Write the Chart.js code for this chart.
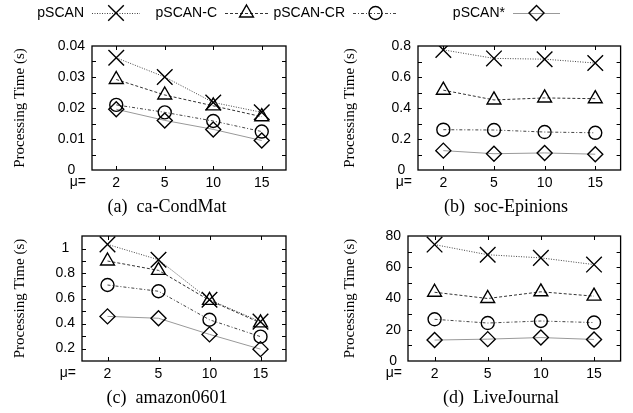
<!DOCTYPE html>
<html>
<head>
<meta charset="utf-8">
<script src="https://cdn.jsdelivr.net/npm/chart.js@4.4.1/dist/chart.umd.min.js"></script>
<style>
body { margin: 0; background: #fff; }
#wrap { position: relative; width: 633px; height: 413px; background: #fff; overflow: hidden; }
#wrap canvas { position: absolute; }
</style>
</head>
<body>
<div id="wrap">
  <canvas id="legend" width="633" height="26" style="left:0;top:0"></canvas>
  <canvas id="chartA" width="316" height="192" style="left:0;top:26px"></canvas>
  <canvas id="chartB" width="303" height="192" style="left:330px;top:26px"></canvas>
  <canvas id="chartC" width="316" height="193" style="left:0;top:216px"></canvas>
  <canvas id="chartD" width="303" height="193" style="left:330px;top:216px"></canvas>
</div>
<script>
// x categories (mu)
const muLabels = ['2', '5', '10', '15'];
const seriesNames = ['pSCAN', 'pSCAN-C', 'pSCAN-CR', 'pSCAN*'];

// (a) ca-CondMat
const condMatPscan   = [0.0362, 0.0300, 0.0218, 0.0186];
const condMatPscanC  = [0.0292, 0.0242, 0.0207, 0.0172];
const condMatPscanCR = [0.0210, 0.0186, 0.0158, 0.0124];
const condMatStar    = [0.0196, 0.0160, 0.0131, 0.0095];
const condMatTicks   = [0, 0.01, 0.02, 0.03, 0.04];

// (b) soc-Epinions
const epinionsPscan   = [0.775, 0.720, 0.715, 0.690];
const epinionsPscanC  = [0.515, 0.452, 0.465, 0.460];
const epinionsPscanCR = [0.260, 0.258, 0.245, 0.240];
const epinionsStar    = [0.125, 0.105, 0.110, 0.102];
const epinionsTicks   = [0, 0.2, 0.4, 0.6, 0.8];

// (c) amazon0601
const amazonPscan   = [1.033, 0.910, 0.590, 0.415];
const amazonPscanC  = [0.900, 0.825, 0.585, 0.405];
const amazonPscanCR = [0.708, 0.658, 0.430, 0.295];
const amazonStar    = [0.457, 0.442, 0.313, 0.195];
const amazonTicks   = [0.2, 0.4, 0.6, 0.8, 1];

// (d) LiveJournal
const ljPscan   = [74.5, 68.0, 66.0, 61.7];
const ljPscanC  = [44.0, 40.0, 44.3, 41.5];
const ljPscanCR = [26.7, 24.3, 25.6, 24.6];
const ljStar    = [13.4, 14.0, 15.0, 13.8];
const ljTicks   = [0, 20, 40, 60, 80];

const sansFont = 'Liberation Sans, Arial, Helvetica, sans-serif';
const serifFont = 'Liberation Serif, Times New Roman, serif';

const styles = [
  { pointStyle: 'crossRot', pointRadius: 11, borderColor: '#444', borderDash: [1, 1.5] },
  { pointStyle: 'triangle', pointRadius: 8, borderColor: '#333', borderDash: [3, 2] },
  { pointStyle: 'circle', pointRadius: 6.5, borderColor: '#444', borderDash: [3, 2, 1, 2] },
  { pointStyle: 'rectRot', pointRadius: 7.5, borderColor: '#999', borderDash: [] }
];

function makeDatasets(series) {
  return series.map((vals, i) => ({
    label: seriesNames[i],
    data: vals,
    borderColor: styles[i].borderColor,
    borderDash: styles[i].borderDash,
    borderWidth: 1,
    pointStyle: styles[i].pointStyle,
    pointRadius: styles[i].pointRadius,
    pointBorderColor: '#000',
    pointBackgroundColor: 'rgba(0,0,0,0)',
    pointBorderWidth: 1.4,
    fill: false,
    tension: 0
  }));
}

// box + inside tick marks + "μ=" label + caption
const framePlugin = {
  id: 'frame',
  beforeDatasetsDraw(chart, args, opts) {
    const { ctx, chartArea: a, scales: { x, y } } = chart;
    ctx.save();
    ctx.strokeStyle = '#000';
    ctx.lineWidth = 1;
    ctx.beginPath();
    const n = Math.round((opts.max - opts.min) / opts.minor);
    for (let k = 1; k < n; k++) {
      const py = Math.round(y.getPixelForValue(opts.min + k * opts.minor)) + 0.5;
      ctx.moveTo(a.left, py); ctx.lineTo(a.left + 4, py);
      ctx.moveTo(a.right, py); ctx.lineTo(a.right - 4, py);
    }
    muLabels.forEach((l, i) => {
      const px = Math.round(x.getPixelForValue(i)) + 0.5;
      ctx.moveTo(px, a.bottom); ctx.lineTo(px, a.bottom - 4);
      ctx.moveTo(px, a.top); ctx.lineTo(px, a.top + 4);
    });
    ctx.stroke();
    ctx.lineWidth = 1.3;
    ctx.strokeRect(a.left, a.top, a.right - a.left, a.bottom - a.top);
    ctx.fillStyle = '#000';
    ctx.font = '14px ' + sansFont;
    ctx.textAlign = 'right';
    ctx.textBaseline = 'top';
    ctx.fillText('\u03bc=', a.left - 6, a.bottom + 5);
    ctx.font = '18px ' + serifFont;
    ctx.textAlign = 'center';
    ctx.textBaseline = 'middle';
    ctx.fillText(opts.caption, opts.captionX, chart.height - 11);
    ctx.restore();
  }
};

function makeChart(id, caption, captionX, series, ticks, min, max, minor, yWidth, rightPad) {
  return new Chart(document.getElementById(id), {
    type: 'line',
    data: { labels: muLabels, datasets: makeDatasets(series) },
    options: {
      responsive: false,
      animation: false,
      layout: { padding: { left: 0, right: rightPad, top: 20, bottom: 0 } },
      plugins: {
        legend: { display: false },
        tooltip: { enabled: false },
        frame: { min: min, max: max, minor: minor, caption: caption, captionX: captionX }
      },
      scales: {
        x: {
          type: 'category',
          offset: true,
          grid: { display: false, drawTicks: false },
          border: { display: false },
          ticks: { color: '#000', font: { family: sansFont, size: 14 }, padding: 5, maxRotation: 0 },
          afterFit(scale) { scale.height = 48; }
        },
        y: {
          min: min,
          max: max,
          grid: { display: false, drawTicks: false },
          border: { display: false },
          afterBuildTicks(scale) { scale.ticks = ticks.map(v => ({ value: v })); },
          ticks: {
            color: '#000',
            font: { family: sansFont, size: 14 },
            padding: 7,
            crossAlign: 'center',
            callback: v => String(+Number(v).toFixed(4))
          },
          title: { display: true, text: 'Processing Time (s)', color: '#000', font: { family: serifFont, size: 15 }, padding: { top: 11, bottom: 0 } },
          afterFit(scale) { scale.width = yWidth; }
        }
      }
    },
    plugins: [framePlugin]
  });
}

makeChart('chartA', '(a)  ca-CondMat', 167,
  [condMatPscan, condMatPscanC, condMatPscanCR, condMatStar], condMatTicks, 0, 0.04, 0.005, 92, 30);
makeChart('chartB', '(b)  soc-Epinions', 176,
  [epinionsPscan, epinionsPscanC, epinionsPscanCR, epinionsStar], epinionsTicks, 0, 0.8, 0.1, 88, 10);
makeChart('chartC', '(c)  amazon0601', 167,
  [amazonPscan, amazonPscanC, amazonPscanCR, amazonStar], amazonTicks, 0.1, 1.1, 0.1, 82, 30);
makeChart('chartD', '(d)  LiveJournal', 171,
  [ljPscan, ljPscanC, ljPscanCR, ljStar], ljTicks, 0, 80, 10, 78, 10);

// legend row: text, then line sample with marker
const legendSlots = [
  { textRight: 84, x0: 92, x1: 140 },
  { textRight: 217, x0: 225, x1: 268 },
  { textRight: 345, x0: 353, x1: 398 },
  { textRight: 505, x0: 513, x1: 560 }
];

const legendPlugin = {
  id: 'keyRow',
  afterDraw(chart) {
    const ctx = chart.ctx;
    const cy = 13;
    ctx.save();
    ctx.font = '14px ' + sansFont;
    ctx.textAlign = 'right';
    ctx.textBaseline = 'middle';
    chart.data.datasets.forEach((ds, i) => {
      const s = legendSlots[i];
      ctx.fillStyle = '#000';
      ctx.fillText(ds.label, s.textRight, cy);
      ctx.strokeStyle = ds.borderColor;
      ctx.lineWidth = 1;
      ctx.setLineDash(ds.borderDash);
      ctx.beginPath();
      ctx.moveTo(s.x0, cy + 0.5);
      ctx.lineTo(s.x1, cy + 0.5);
      ctx.stroke();
      ctx.setLineDash([]);
      ctx.strokeStyle = '#000';
      ctx.fillStyle = 'rgba(0,0,0,0)';
      ctx.lineWidth = 1.4;
      Chart.helpers.drawPoint(ctx, {
        pointStyle: ds.pointStyle, radius: ds.pointRadius, rotation: 0, borderWidth: 1.4
      }, (s.x0 + s.x1) / 2, cy);
    });
    ctx.restore();
  }
};

new Chart(document.getElementById('legend'), {
  type: 'line',
  data: { labels: [], datasets: makeDatasets([[], [], [], []]) },
  options: {
    responsive: false,
    animation: false,
    plugins: { legend: { display: false }, tooltip: { enabled: false } },
    scales: { x: { display: false }, y: { display: false } }
  },
  plugins: [legendPlugin]
});
</script>
</body>
</html>
